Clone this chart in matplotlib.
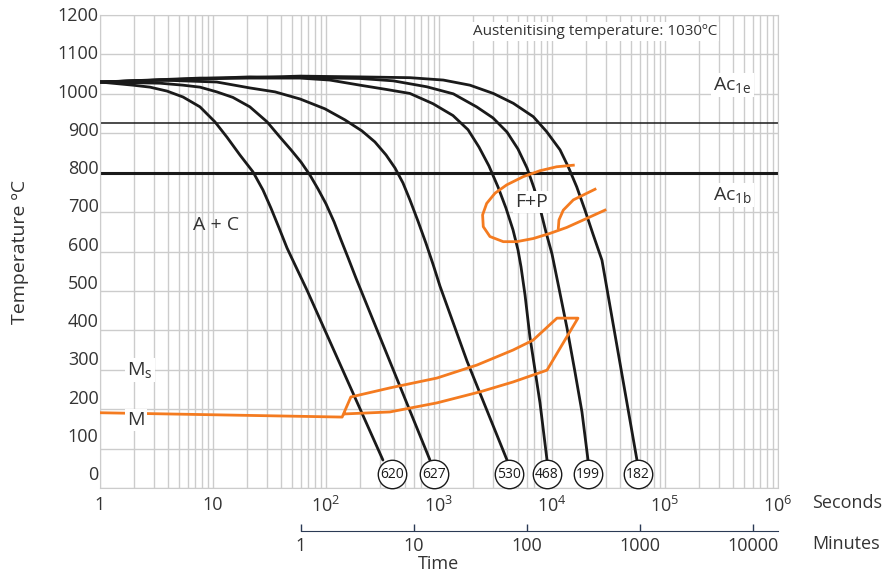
import numpy as np
import matplotlib.pyplot as plt
from matplotlib.ticker import NullFormatter, NullLocator

plt.rcParams['font.family'] = ['Open Sans', 'DejaVu Sans']
plt.rcParams['mathtext.fontset'] = 'custom'
plt.rcParams['mathtext.rm'] = 'Open Sans'
plt.rcParams['mathtext.it'] = 'Open Sans:italic'

# cooling curves: time (s) and temperature (C), label = hardness at end
t_620 = [1, 1.96, 2.77, 3.92, 5.43, 7.67, 10.4, 13.3, 17.3, 22.6, 27.7, 32.6,
         38.4, 45.2, 53.2, 67.9, 319]
T_620 = [1030, 1022, 1017, 1007, 992, 967, 929, 890, 845, 802, 756, 710,
         660, 609, 566, 502, 71]
t_627 = [1, 3.40, 5.43, 7.67, 10.8, 15.0, 21.2, 30.1, 39.2, 49.0, 60.1, 72.1,
         84.9, 100, 118, 136, 157, 184, 832]
T_627 = [1030, 1027, 1022, 1017, 1005, 991, 967, 929, 890, 858, 827, 794,
         759, 721, 675, 629, 584, 533, 71]
t_530 = [1, 3.40, 10.8, 21.2, 35.4, 58.9, 97.9, 147, 208, 271, 340, 408, 480,
         553, 652, 767, 885, 1021, 1770, 4000]
T_530 = [1030, 1035, 1030, 1015, 1005, 987, 962, 934, 906, 878, 845, 812, 774,
         731, 677, 621, 568, 512, 322, 71]
t_468 = [1, 7.67, 58.9, 108, 200, 345, 553, 885, 1330, 1807, 2259, 2769, 3327,
         3918, 4519, 5003, 5321, 5772, 6383, 7834, 9036]
T_468 = [1030, 1040, 1040, 1035, 1022, 1011, 1001, 975, 945, 909, 865, 817, 764,
         710, 655, 604, 561, 490, 383, 216, 71]
t_199 = [1, 21.2, 200, 394, 778, 1340, 2153, 3006, 4000, 5003, 6012, 6934,
         7834, 8851, 10000, 11530, 13580, 15990, 18420, 20840]
T_199 = [1030, 1043, 1039, 1033, 1018, 1000, 967, 939, 903, 860, 812, 761,
         710, 649, 594, 507, 406, 294, 193, 71]
t_182 = [1, 58.9, 200, 553, 1091, 1879, 3027, 4550, 6839, 8974, 11780, 13930,
         16560, 19590, 23070, 27690, 56490]
T_182 = [1030, 1045, 1043, 1041, 1035, 1022, 1001, 976, 942, 904, 858, 815,
         764, 705, 644, 578, 71]

curves = [(t_620, T_620), (t_627, T_627), (t_530, T_530),
          (t_468, T_468), (t_199, T_199), (t_182, T_182)]
hardness = ['620', '627', '530', '468', '199', '182']
circle_t = [384, 904, 4169, 9036, 20890, 57680]
circle_T = 35

# martensite line + bainite bay
t_mart = [1, 139, 166, 368, 959, 2168, 4519, 6792, 11070, 16980, 9036,
          4519, 2307, 959, 368, 147]
T_mart = [191, 180, 231, 254, 279, 312, 350, 375, 431, 431, 299,
          269, 244, 216, 193, 188]

# ferrite + pearlite nose
t_fp_outer = [15450, 10990, 7834, 5572, 3972, 3133, 2642, 2432, 2466, 2825,
              3707, 4875, 6839, 9594, 13490, 18920, 29440]
T_fp_outer = [819, 815, 805, 790, 769, 748, 722, 693, 663, 638,
              625, 625, 633, 646, 661, 680, 705]
t_fp_inner = [11380, 11530, 12590, 15450, 24040]
T_fp_inner = [659, 680, 705, 731, 758]

ac1e = 927
ac1b = 800

sec_ticks = [1, 10, 100, 1000, 10000, 100000, 1000000]
sec_labels = ['1', '10', '$10^{2}$', '$10^{3}$', '$10^{4}$', '$10^{5}$', '$10^{6}$']
min_ticks = [1, 10, 100, 1000, 10000]
y_ticks = list(range(0, 1201, 100))

black = '#1a1a1a'
orange = '#f47b20'
txt = '#333333'
grid = '#cccccc'

fig = plt.figure(figsize=(8.88, 5.73), dpi=100)
ax = fig.add_axes([0.1126, 0.1483, 0.7635, 0.8255])
ax.set_xscale('log')
ax.set_xlim(1, 1e6)
ax.set_ylim(0, 1200)

ax.grid(which='both', color=grid, lw=1, zorder=0)
for s in ax.spines.values():
    s.set_color(grid)

ax.axhline(ac1e, color=black, lw=1.1, zorder=2)
ax.axhline(ac1b, color=black, lw=2.2, zorder=2)

for t, T in curves:
    ax.plot(t, T, color=black, lw=2.0, solid_joinstyle='round', solid_capstyle='round', zorder=3)

ax.plot(t_mart, T_mart, color=orange, lw=2.0, solid_joinstyle='round', zorder=4)
ax.plot(t_fp_outer, T_fp_outer, color=orange, lw=2.0, solid_joinstyle='round', zorder=4)
ax.plot(t_fp_inner, T_fp_inner, color=orange, lw=2.0, solid_joinstyle='round', zorder=4)

ax.scatter(circle_t, [circle_T] * len(circle_t), s=420, facecolor='white',
           edgecolor=black, linewidth=1, zorder=5, clip_on=False)
for x, lab in zip(circle_t, hardness):
    ax.text(x, circle_T, lab, ha='center', va='center', fontsize=10, color=black, zorder=6)

ax.set_xticks(sec_ticks, labels=sec_labels)
ax.xaxis.set_minor_formatter(NullFormatter())
ax.set_yticks(y_ticks, labels=[])
ax.tick_params(axis='both', which='both', length=0, labelsize=13, labelcolor=txt)
ax.tick_params(axis='x', pad=6)

# y labels sit a little above their grid lines near the bottom, as in the source
for v in y_ticks:
    lift = (13 - 0.0118 * v) * 0.72
    ax.annotate(str(v), xy=(0, v), xycoords=('axes fraction', 'data'),
                xytext=(-1, lift), textcoords='offset points',
                ha='right', va='center', fontsize=13, color=txt)

# minutes axis
sec = ax.secondary_xaxis(-0.091, functions=(lambda s: s / 60, lambda m: m * 60))
sec.set_xticks(min_ticks, labels=[str(m) for m in min_ticks])
sec.xaxis.set_minor_locator(NullLocator())
sec.spines['bottom'].set_bounds(1, 1e6 / 60)
sec.spines['bottom'].set_color('#2b3a55')
sec.tick_params(direction='in', length=5, width=1, color='#2b3a55', labelsize=13,
                labelcolor=txt, pad=4)
sec.set_xlabel('Time', fontsize=13, color=txt, labelpad=0)

ax.text(1.05, -0.032, 'Seconds', transform=ax.transAxes, va='center', ha='left',
        fontsize=13, color=txt)
ax.text(1.05, -0.118, 'Minutes', transform=ax.transAxes, va='center', ha='left',
        fontsize=13, color=txt)
fig.text(0.022, 0.56, 'Temperature ºC', rotation=90, ha='center', va='center',
         fontsize=14, color=txt)

box = dict(facecolor='white', edgecolor='none', pad=1.5)
ax.text(2000, 1159, 'Austenitising temperature: 1030ºC', fontsize=11, color=txt,
        va='center', ha='left', bbox=box, zorder=6)
ax.text(2.66e5, 1022, r'Ac$_{\mathrm{1e}}$', fontsize=14, color=txt, va='center', bbox=box, zorder=6)
ax.text(2.66e5, 743, r'Ac$_{\mathrm{1b}}$', fontsize=14, color=txt, va='center', bbox=box, zorder=6)
ax.text(10.6, 667, 'A + C', fontsize=14, color=txt, ha='center', va='center', zorder=6)
ax.text(6600, 725, 'F+P', fontsize=14, color=txt, ha='center', va='center', bbox=box, zorder=6)
ax.text(1.75, 299, r'M$_{\mathrm{s}}$', fontsize=14, color=txt, va='center', bbox=box, zorder=6)
ax.text(1.75, 172, 'M', fontsize=14, color=txt, va='center', bbox=box, zorder=6)

fig.savefig('out.png', dpi=100)
